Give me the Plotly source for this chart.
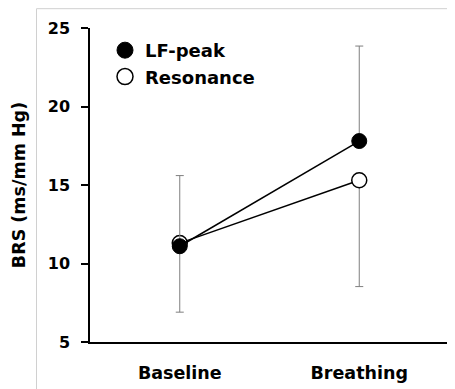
import plotly.graph_objects as go

categories = ["Baseline", "Breathing"]
lf_peak = [11.1, 17.8]
lf_peak_err_up = [4.5, 6.05]
resonance = [11.3, 15.3]
resonance_err_down = [4.4, 6.77]
y_ticks = [5, 10, 15, 20, 25]

FONT = "DejaVu Sans"
OFF = 8  # page body margin offset

fig = go.Figure()

fig.add_trace(go.Scatter(
    x=categories, y=resonance, name="Resonance", mode="lines+markers",
    line=dict(color="black", width=1.5),
    marker=dict(symbol="circle", size=15, color="white", line=dict(color="black", width=1.5)),
    error_y=dict(type="data", symmetric=False, array=[0, 0], arrayminus=resonance_err_down,
                 color="#7f7f7f", thickness=1, width=4),
    showlegend=False,
))
fig.add_trace(go.Scatter(
    x=categories, y=lf_peak, name="LF-peak", mode="lines+markers",
    line=dict(color="black", width=1.5),
    marker=dict(symbol="circle", size=15, color="black", line=dict(color="black", width=1)),
    error_y=dict(type="data", symmetric=False, array=lf_peak_err_up, arrayminus=[0, 0],
                 color="#7f7f7f", thickness=1, width=4),
    showlegend=False,
))
# legend-only entries (markers only)
fig.add_trace(go.Scatter(
    x=[None], y=[None], name="LF-peak", mode="markers",
    marker=dict(symbol="circle", size=16, color="black", line=dict(color="black", width=1)),
    legendrank=1,
))
fig.add_trace(go.Scatter(
    x=[None], y=[None], name="Resonance", mode="markers",
    marker=dict(symbol="circle", size=16, color="white", line=dict(color="black", width=1.5)),
    legendrank=2,
))

W, H = 455 - OFF, 389 - OFF
ml, mr, mt, mb = 90 - OFF, 6, 28 - OFF, 44
pw, ph = W - ml - mr, H - mt - mb

def px_x(x):
    return (x - OFF - ml) / pw

def px_y(y):
    return (H - mb - (y - OFF)) / ph

fig.add_shape(type="rect", xref="paper", yref="paper",
              x0=px_x(36.5), x1=px_x(480), y0=px_y(420), y1=px_y(8.5),
              line=dict(color="#d0d0d0", width=1), fillcolor="rgba(0,0,0,0)", layer="below")

fig.update_layout(
    width=W, height=H,
    margin=dict(l=ml, r=mr, t=mt, b=mb, pad=0),
    paper_bgcolor="white", plot_bgcolor="white",
    font=dict(family=FONT, color="black"),
    showlegend=True,
    legend=dict(x=px_x(105), y=px_y(32), xanchor="left", yanchor="top",
                font=dict(family=FONT, size=18, color="black", weight="bold"),
                bgcolor="rgba(0,0,0,0)", itemwidth=30, tracegroupgap=0),
    xaxis=dict(type="category", range=[-0.5, 1.5], showgrid=False, zeroline=False,
               showline=True, linecolor="black", linewidth=2, ticks="",
               ticklabelstandoff=14,
               tickfont=dict(family=FONT, size=17.5, color="black", weight="bold")),
    yaxis=dict(range=[5, 25], tickvals=y_ticks, showgrid=False, zeroline=False,
               showline=True, linecolor="black", linewidth=1.5, ticks="outside",
               ticklen=7, tickwidth=1.5, tickcolor="black", ticklabelstandoff=8,
               tickfont=dict(family=FONT, size=16, color="black", weight="bold"),
               title=dict(text="BRS (ms/mm Hg)", standoff=18,
                          font=dict(family=FONT, size=17.5, color="black", weight="bold"))),
)

fig.write_html("out.html")
